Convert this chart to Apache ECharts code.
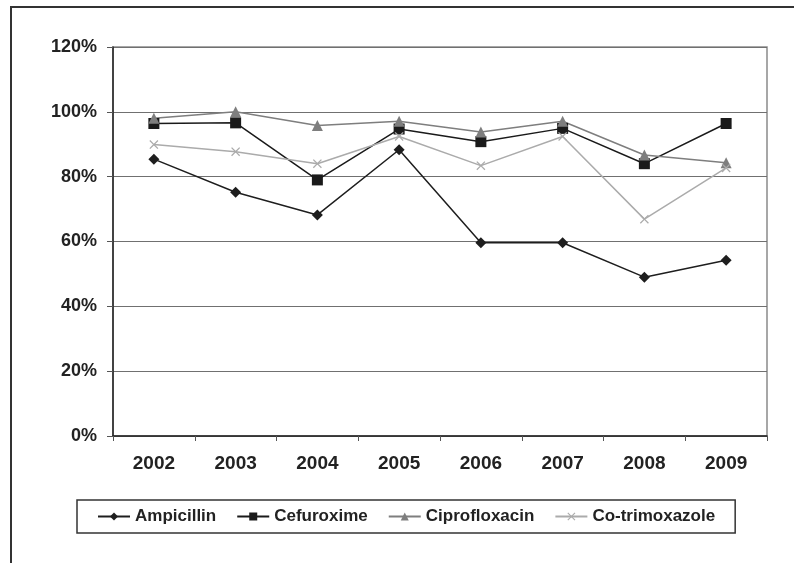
<!DOCTYPE html>
<html>
<head>
<meta charset="utf-8">
<script src="https://cdn.jsdelivr.net/npm/echarts@6/dist/echarts.min.js"></script>
<style>
    html, body { margin: 0; padding: 0; background: #fff; }
    #chart { width: 794px; height: 563px; }
</style>
</head>
<body>
<div id="chart"></div>
<script>
// data (percent)
const years = ['2002', '2003', '2004', '2005', '2006', '2007', '2008', '2009'];
const ampicillin = [85.4, 75.2, 68.2, 88.3, 59.6, 59.6, 49.0, 54.2];
const cefuroxime = [96.4, 96.6, 79.0, 94.7, 90.8, 94.9, 84.0, 96.4];
const ciprofloxacin = [98.0, 100, 95.8, 97.1, 93.8, 97.1, 86.7, 84.3];
const cotrimoxazole = [89.9, 87.7, 84.0, 92.4, 83.4, 92.4, 66.9, 82.7];

const font = '"Liberation Sans", Arial, sans-serif';
// thin filled "x" marker
const crossPath = 'path://M0,1L1,0L5,4L9,0L10,1L6,5L10,9L9,10L5,6L1,10L0,9L4,5Z';

const lineSeries = (name, data, color, symbol, size, width) => ({
    name: name,
    type: 'line',
    data: data,
    symbol: symbol,
    symbolSize: size,
    showAllSymbol: true,
    lineStyle: { color: color, width: width },
    itemStyle: { color: color },
    emphasis: { disabled: true },
    animation: false
});

const chart = echarts.init(document.getElementById('chart'), null, { renderer: 'canvas' });

const option = {
    animation: false,
    backgroundColor: '#fff',
    grid: {
        left: 113,
        top: 47,
        right: 27,
        bottom: 127,
        show: true,
        borderColor: '#8a8a8a',
        borderWidth: 1.5
    },
    xAxis: {
        type: 'category',
        data: years,
        boundaryGap: true,
        axisLine: { lineStyle: { color: '#222', width: 1.5 } },
        axisTick: { show: true, length: 5, lineStyle: { color: '#555' } },
        axisLabel: {
            color: '#222',
            fontFamily: font,
            fontWeight: 'bold',
            fontSize: 19,
            margin: 18
        },
        splitLine: { show: false }
    },
    yAxis: {
        type: 'value',
        min: 0,
        max: 120,
        interval: 20,
        axisLine: { show: true, lineStyle: { color: '#222', width: 1.5 } },
        axisTick: { show: true, length: 6, lineStyle: { color: '#555' } },
        axisLabel: {
            formatter: '{value}%',
            color: '#222',
            fontFamily: font,
            fontWeight: 'bold',
            fontSize: 18,
            margin: 16
        },
        splitLine: { lineStyle: { color: '#707070', width: 1.2 } }
    },
    legend: {
        left: 77,
        top: 500,
        padding: [8, 20, 8, 20],
        itemGap: 20,
        itemWidth: 32,
        itemHeight: 10,
        borderColor: '#333',
        borderWidth: 1.5,
        textStyle: {
            color: '#222',
            fontFamily: font,
            fontWeight: 'bold',
            fontSize: 17
        },
        data: ['Ampicillin', 'Cefuroxime', 'Ciprofloxacin', 'Co-trimoxazole']
    },
    graphic: [
        {
            type: 'polyline',
            silent: true,
            shape: { points: [[11, 563], [11, 7], [794, 7]] },
            style: { stroke: '#333', lineWidth: 2, fill: null }
        }
    ],
    series: [
        lineSeries('Ampicillin', ampicillin, '#1e1e1e', 'diamond', 11, 1.5),
        lineSeries('Cefuroxime', cefuroxime, '#1a1a1a', 'rect', 11, 1.5),
        lineSeries('Ciprofloxacin', ciprofloxacin, '#7e7e7e', 'triangle', 11, 1.5),
        lineSeries('Co-trimoxazole', cotrimoxazole, '#ababab', crossPath, 9, 1.5)
    ]
};

chart.setOption(option);
</script>
</body>
</html>
